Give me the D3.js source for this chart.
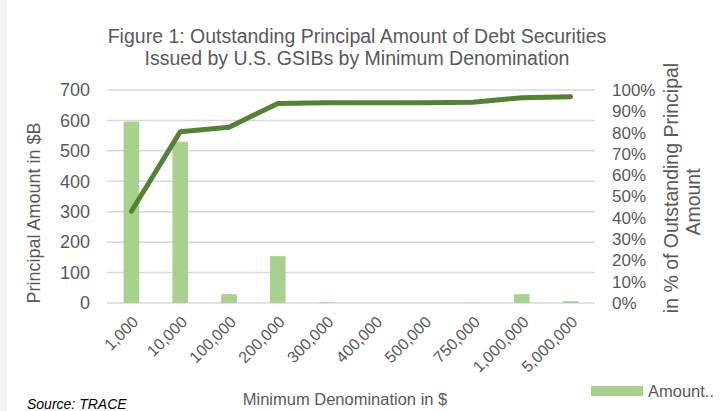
<!DOCTYPE html>
<html>
<head>
<meta charset="utf-8">
<script src="https://cdn.jsdelivr.net/npm/d3@7"></script>
<style>
  body { margin: 0; background: #fff; }
  text { font-family: "Liberation Sans", Arial, sans-serif; fill: #595959; }
</style>
</head>
<body>
<div id="chart"></div>
<script>
// denominations on the x axis
var denominations = ["1,000", "10,000", "100,000", "200,000", "300,000",
                     "400,000", "500,000", "750,000", "1,000,000", "5,000,000"];
// principal amount in $B (bars, left axis)
var amounts = [596, 530, 29, 154, 2, 0, 0, 1, 29, 6];
// cumulative share of outstanding principal (line, right axis)
var cumShare = [0.431, 0.804, 0.825, 0.937, 0.940, 0.940, 0.940, 0.942, 0.964, 0.968];
var leftTicks = [0, 100, 200, 300, 400, 500, 600, 700];
var rightTicks = [0, 0.1, 0.2, 0.3, 0.4, 0.5, 0.6, 0.7, 0.8, 0.9, 1.0];

(function() {
    var width = 726, height = 411;
    var plotLeft = 107, plotRight = 595, plotTop = 90, plotBottom = 303;

    var svg = d3.select("#chart").append("svg")
        .attr("width", width)
        .attr("height", height);

    svg.append("rect").attr("x", 0).attr("y", 0).attr("width", 7).attr("height", height)
        .attr("fill", "#f4f4f2");

    var x = d3.scaleBand().domain(denominations).range([plotLeft, plotRight]).padding(0);
    var y = d3.scaleLinear().domain([0, 700]).range([plotBottom, plotTop]);
    var y2 = d3.scaleLinear().domain([0, 1]).range([plotBottom, plotTop]);

    // gridlines
    svg.append("g").selectAll("line")
        .data(leftTicks)
        .enter().append("line")
        .attr("x1", plotLeft).attr("x2", plotRight)
        .attr("y1", function(d) { return y(d); })
        .attr("y2", function(d) { return y(d); })
        .attr("stroke", "#d9d9d9")
        .attr("stroke-width", 1.5);

    // bars
    var barW = x.bandwidth() * 0.32;
    svg.append("g").selectAll("rect")
        .data(amounts)
        .enter().append("rect")
        .attr("x", function(d, i) { return x(denominations[i]) + x.bandwidth() / 2 - barW / 2; })
        .attr("y", function(d) { return y(d); })
        .attr("width", barW)
        .attr("height", function(d) { return plotBottom - y(d); })
        .attr("fill", "#a9d18e");

    // cumulative line
    var line = d3.line()
        .x(function(d, i) { return x(denominations[i]) + x.bandwidth() / 2; })
        .y(function(d) { return y2(d); });

    svg.append("path")
        .datum(cumShare)
        .attr("d", line)
        .attr("fill", "none")
        .attr("stroke", "#548235")
        .attr("stroke-width", 5)
        .attr("stroke-linecap", "round")
        .attr("stroke-linejoin", "round");

    // left axis
    var yAxis = svg.append("g")
        .attr("transform", "translate(" + (plotLeft - 17) + ",0)")
        .call(d3.axisLeft(y).tickValues(leftTicks).tickSize(0).tickPadding(0));
    yAxis.select(".domain").remove();
    yAxis.selectAll("text").style("font-size", "18px").attr("fill", "#595959")
        .style("font-family", "'Liberation Sans', Arial, sans-serif");

    // right axis
    var yAxis2 = svg.append("g")
        .attr("transform", "translate(" + (plotRight + 17) + ",0)")
        .call(d3.axisRight(y2).tickValues(rightTicks).tickFormat(d3.format(".0%")).tickSize(0).tickPadding(0));
    yAxis2.select(".domain").remove();
    yAxis2.selectAll("text").style("font-size", "17px").attr("fill", "#595959")
        .style("font-family", "'Liberation Sans', Arial, sans-serif");

    // x axis labels
    var xAxis = svg.append("g")
        .attr("transform", "translate(0," + plotBottom + ")")
        .call(d3.axisBottom(x).tickSize(0).tickPadding(0));
    xAxis.select(".domain").remove();
    xAxis.selectAll("text")
        .style("font-size", "16px")
        .style("font-family", "'Liberation Sans', Arial, sans-serif")
        .attr("fill", "#595959")
        .attr("text-anchor", "end")
        .attr("dy", null)
        .attr("y", 0)
        .attr("transform", "translate(8,20) rotate(-45)");

    // titles
    svg.append("text").attr("x", 357).attr("y", 43).attr("text-anchor", "middle")
        .style("font-size", "19.5px").text("Figure 1: Outstanding Principal Amount of Debt Securities");
    svg.append("text").attr("x", 357).attr("y", 65).attr("text-anchor", "middle")
        .style("font-size", "19.5px").text("Issued by U.S. GSIBs by Minimum Denomination");

    svg.append("text")
        .attr("transform", "translate(40,213) rotate(-90)")
        .attr("text-anchor", "middle")
        .style("font-size", "18px")
        .text("Principal Amount in $B");

    svg.append("text")
        .attr("transform", "translate(678,188) rotate(-90)")
        .attr("text-anchor", "middle")
        .style("font-size", "19.5px")
        .text("in % of Outstanding Principal");
    svg.append("text")
        .attr("transform", "translate(700,202) rotate(-90)")
        .attr("text-anchor", "middle")
        .style("font-size", "19.5px")
        .text("Amount");

    svg.append("text").attr("x", 345).attr("y", 405).attr("text-anchor", "middle")
        .style("font-size", "16.5px").text("Minimum Denomination in $");

    svg.append("text").attr("x", 27).attr("y", 409)
        .style("font-size", "14px").style("font-style", "italic").style("fill", "#000")
        .text("Source: TRACE");

    // legend
    svg.append("rect").attr("x", 591).attr("y", 386).attr("width", 52).attr("height", 10)
        .attr("fill", "#a9d18e");
    svg.append("text").attr("x", 648).attr("y", 397)
        .style("font-size", "16.5px").text("Amount..");
})();
</script>
</body>
</html>
